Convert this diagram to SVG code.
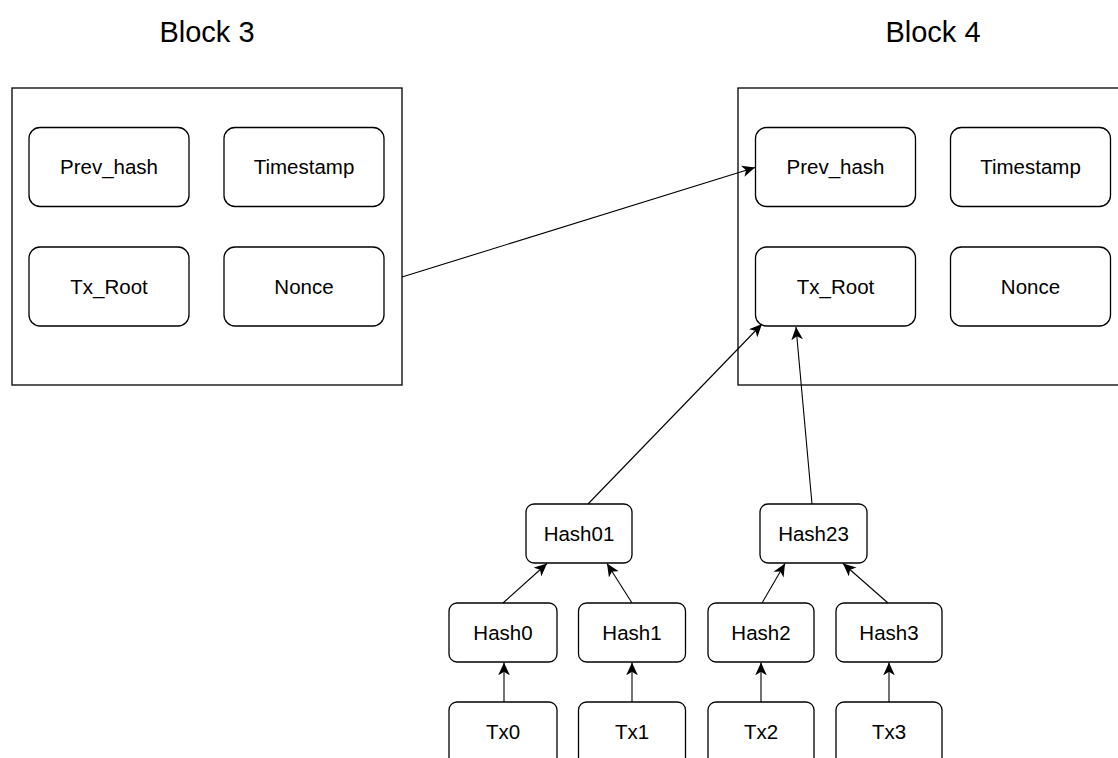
<svg xmlns="http://www.w3.org/2000/svg" width="1118" height="758" viewBox="0 0 1118 758">
<style>
.blk{fill:#fff;stroke:#000;stroke-width:1.3}
.fld{fill:#fff;stroke:#000;stroke-width:1.3}
.t{font-family:"Liberation Sans",Arial,sans-serif;font-size:20.5px;fill:#000;text-anchor:middle}
.title{font-family:"Liberation Sans",Arial,sans-serif;font-size:29px;fill:#000;text-anchor:middle}
.c{fill:none;stroke:#000;stroke-width:1.1}
</style>
<defs>
<marker id="arr" markerUnits="userSpaceOnUse" markerWidth="14" markerHeight="12" refX="11" refY="5" orient="auto" viewBox="0 0 12 10">
<path d="M0,0 L11,5 L0,10 L3,5 Z" fill="#000"/>
</marker>
</defs>
<rect width="1118" height="758" fill="#fff"/>
<g id="block3">
<text class="title" x="207" y="42">Block 3</text>
<rect class="blk" x="12" y="88" width="390" height="297"/>
</g>
<g id="b3-prevhash"><rect class="fld" x="29" y="127.5" width="160" height="79" rx="11"/><text class="t" x="109" y="174">Prev_hash</text></g>
<g id="b3-timestamp"><rect class="fld" x="224" y="127.5" width="160" height="79" rx="11"/><text class="t" x="304" y="174">Timestamp</text></g>
<g id="b3-txroot"><rect class="fld" x="29" y="247" width="160" height="79" rx="11"/><text class="t" x="109" y="294">Tx_Root</text></g>
<g id="b3-nonce"><rect class="fld" x="224" y="247" width="160" height="79" rx="11"/><text class="t" x="304" y="294">Nonce</text></g>
<g id="block4">
<text class="title" x="933" y="42">Block 4</text>
<rect class="blk" x="738" y="88" width="390" height="297"/>
</g>
<g id="b4-prevhash"><rect class="fld" x="755.5" y="127.5" width="160" height="79" rx="11"/><text class="t" x="835.5" y="174">Prev_hash</text></g>
<g id="b4-timestamp"><rect class="fld" x="950.5" y="127.5" width="160" height="79" rx="11"/><text class="t" x="1030.5" y="174">Timestamp</text></g>
<g id="b4-txroot"><rect class="fld" x="755.5" y="247" width="160" height="79" rx="11"/><text class="t" x="835.5" y="294">Tx_Root</text></g>
<g id="b4-nonce"><rect class="fld" x="950.5" y="247" width="160" height="79" rx="11"/><text class="t" x="1030.5" y="294">Nonce</text></g>
<g id="hash01"><rect class="fld" x="526" y="504" width="106" height="59" rx="8"/><text class="t" x="579" y="540.5">Hash01</text></g>
<g id="hash23"><rect class="fld" x="760" y="504" width="107" height="59" rx="8"/><text class="t" x="813.5" y="540.5">Hash23</text></g>
<g id="hash0"><rect class="fld" x="449" y="603" width="108" height="59" rx="8"/><text class="t" x="503" y="640">Hash0</text></g>
<g id="hash1"><rect class="fld" x="578.5" y="603" width="107" height="59" rx="8"/><text class="t" x="632" y="640">Hash1</text></g>
<g id="hash2"><rect class="fld" x="708" y="603" width="106" height="59" rx="8"/><text class="t" x="761" y="640">Hash2</text></g>
<g id="hash3"><rect class="fld" x="836" y="603" width="106" height="59" rx="8"/><text class="t" x="889" y="640">Hash3</text></g>
<g id="tx0"><rect class="fld" x="449" y="702" width="108" height="66" rx="8"/><text class="t" x="503" y="739">Tx0</text></g>
<g id="tx1"><rect class="fld" x="578.5" y="702" width="107" height="66" rx="8"/><text class="t" x="632" y="739">Tx1</text></g>
<g id="tx2"><rect class="fld" x="708" y="702" width="106" height="66" rx="8"/><text class="t" x="761" y="739">Tx2</text></g>
<g id="tx3"><rect class="fld" x="836" y="702" width="106" height="66" rx="8"/><text class="t" x="889" y="739">Tx3</text></g>
<g id="connectors">
<line class="c" x1="402" y1="277" x2="755" y2="167.5" marker-end="url(#arr)"/>
<line class="c" x1="588" y1="504" x2="762" y2="324" marker-end="url(#arr)"/>
<line class="c" x1="812" y1="504" x2="796" y2="327" marker-end="url(#arr)"/>
<line class="c" x1="503" y1="603" x2="547" y2="563.5" marker-end="url(#arr)"/>
<line class="c" x1="632" y1="603" x2="607" y2="563.5" marker-end="url(#arr)"/>
<line class="c" x1="762" y1="603" x2="785" y2="563.5" marker-end="url(#arr)"/>
<line class="c" x1="888" y1="603" x2="843" y2="563.5" marker-end="url(#arr)"/>
<line class="c" x1="504" y1="702" x2="504" y2="662.5" marker-end="url(#arr)"/>
<line class="c" x1="632" y1="702" x2="632" y2="662.5" marker-end="url(#arr)"/>
<line class="c" x1="761" y1="702" x2="761" y2="662.5" marker-end="url(#arr)"/>
<line class="c" x1="889" y1="702" x2="889" y2="662.5" marker-end="url(#arr)"/>
</g>
</svg>
